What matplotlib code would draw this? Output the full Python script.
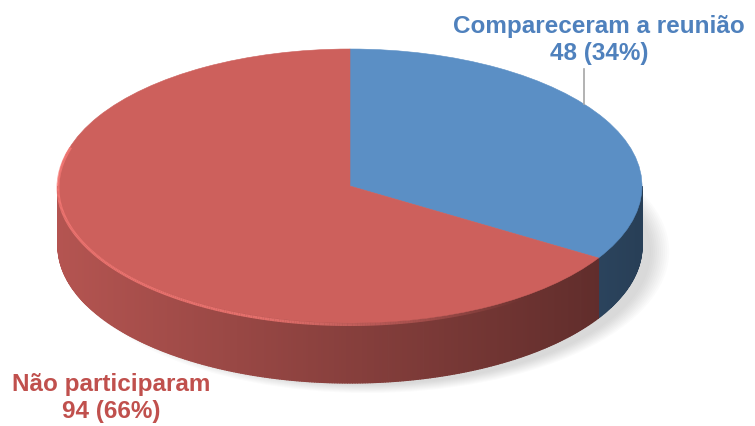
# Pizza 3D: presença na reunião

import numpy as np
import matplotlib.pyplot as plt
from matplotlib.collections import PolyCollection, LineCollection
from matplotlib.patches import Ellipse

plt.rcParams['font.family'] = ['Liberation Sans', 'DejaVu Sans']

rotulos = ['Compareceram a reunião', 'Não participaram']
valores = [48, 94]
cores_topo = ['#5b8fc5', '#cd605c']
cores_texto = ['#4f81bd', '#c0504d']

# geometria em pixels (centro, raios, espessura)
cx, cy, rx, ry = 350, 186, 292, 137
W, H = 755, 426
espessura = 60 / ry

fig = plt.figure(figsize=(W / 100, H / 100), dpi=100)
ax = fig.add_axes([0, 0, 1, 1])

wedges, _ = ax.pie(valores, colors=cores_topo, startangle=90, counterclock=False,
                   wedgeprops=dict(linewidth=0.4, zorder=5))
for w, c in zip(wedges, cores_topo):
    w.set_edgecolor(c)

ax.set_aspect('auto')
ax.set_xlim(-cx / rx, (W - cx) / rx)
ax.set_ylim((cy - H) / ry, cy / ry)
ax.axis('off')

# sombra suave abaixo da pizza, deslocada para a direita
for k in range(10):
    s = 0.97 + 0.007 * k
    ax.add_patch(Ellipse((0.06, -espessura - 0.04), 2 * s, 2 * s,
                         facecolor='#808080', edgecolor='none', alpha=0.03, zorder=1))

# lateral: faixas verticais com sombreamento da esquerda para a direita
passo = 0.5
for w, c in zip(wedges, cores_topo):
    base = np.array(plt.matplotlib.colors.to_rgb(c))
    polys, faces = [], []
    a = w.theta1
    while a < w.theta2 - 1e-9:
        b = min(a + passo, w.theta2)
        m = np.radians((a + b) / 2)
        if np.sin(m) < 0:
            t0, t1 = np.radians(a), np.radians(b)
            polys.append([(np.cos(t0), np.sin(t0)), (np.cos(t1), np.sin(t1)),
                          (np.cos(t1), np.sin(t1) - espessura),
                          (np.cos(t0), np.sin(t0) - espessura)])
            f = 0.88 - 0.44 * (np.cos(m) + 1) / 2
            faces.append(np.clip(base * f, 0, 1))
        a = b
    if polys:
        ax.add_collection(PolyCollection(polys, facecolors=faces, edgecolors=faces,
                                         linewidths=0.9, zorder=3))

    # brilho na borda do topo, sumindo em direção à direita
    t = np.radians(np.arange(w.theta1, w.theta2 + 0.1, 0.5))
    t = t[np.sin(t) < 0.3]
    if len(t) > 1:
        pts = np.column_stack([np.cos(t), np.sin(t) - 0.012])
        segs = np.stack([pts[:-1], pts[1:]], axis=1)
        meio = np.cos((t[:-1] + t[1:]) / 2)
        alfa = 0.8 * np.clip((0.6 - meio) / 0.9, 0, 1)
        luz = np.clip(base * 1.15 + 0.05, 0, 1)
        cores = [(*luz, al) for al in alfa]
        ax.add_collection(LineCollection(segs, colors=cores, linewidths=2, zorder=6))

total = sum(valores)
# linha guia do rótulo azul
xg = (584 - cx) / rx
ax.plot([xg, xg], [np.sqrt(1 - xg ** 2), (cy - 69) / ry], color='#a6a6a6', lw=1.2, zorder=7)

pos_rotulos = [(599 / W, 1 - 40 / H), (111 / W, 1 - 398 / H)]
for r, v, cor, (x, y) in zip(rotulos, valores, cores_texto, pos_rotulos):
    fig.text(x, y, f'{r}\n{v} ({round(v / total * 100)}%)', color=cor, fontsize=17.5,
             fontweight='bold', ha='center', va='center', linespacing=1.2)

fig.savefig('out.png', dpi=100)
